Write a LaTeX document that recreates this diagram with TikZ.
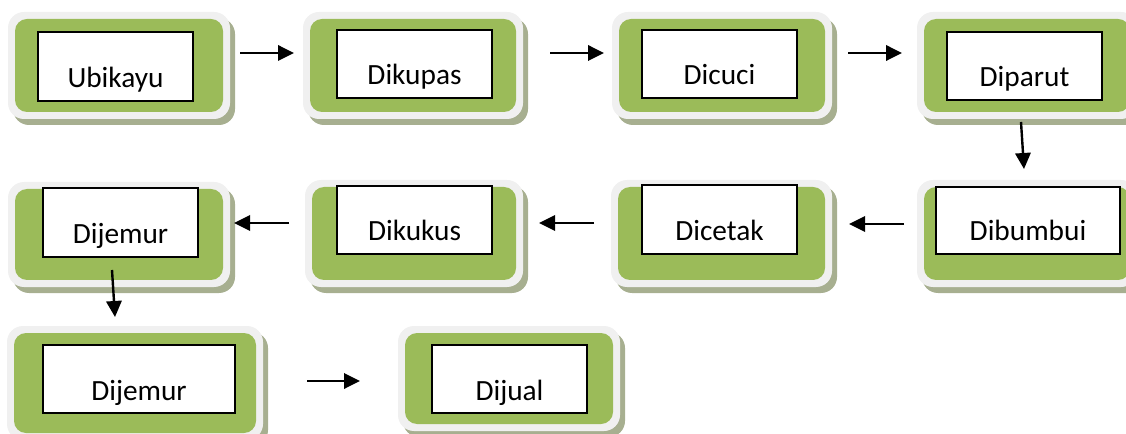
\documentclass[tikz,border=0pt]{standalone}
\usepackage{fontspec}
\setmainfont{Carlito}
\usetikzlibrary{arrows.meta,calc}
\definecolor{boxgreen}{HTML}{9BBB59}
\definecolor{rimgray}{HTML}{F0F0F0}
\definecolor{shadowc}{HTML}{A7AF90}
\tikzset{
  shadowbox/.style={fill=shadowc, rounded corners=12pt},
  rimbox/.style={fill=rimgray, rounded corners=12pt},
  greenbox/.style={fill=boxgreen, rounded corners=9pt},
  whitebox/.style={draw=black, fill=white, line width=1.1pt, inner sep=0pt,
    font=\fontsize{22}{26}\selectfont},
  flow/.style={line width=1.8pt, -{Triangle[length=12pt,width=11.5pt]}}
}
% #1 name, #2 outer top-left, #3 outer bottom-right, #4 white top-left, #5 white bottom-right, #6 text
\newcommand\stage[6]{%
  \fill[shadowbox] ($(#2)+(5,6)$) rectangle ($(#3)+(5,6)$);
  \fill[rimbox] (#2) rectangle (#3);
  \fill[greenbox] ($(#2)+(7,7)$) rectangle ($(#3)+(-7,-7)$);
  \path let \p1=(#4), \p2=(#5) in ($(#4)!0.5!(#5)$)
    node[whitebox, minimum width=\x2-\x1, text depth=9.75pt,
         text height=\y1-\y2-9.75pt] (#1) {#6};
}
\begin{document}
\begin{tikzpicture}[x=0.75pt,y=-0.75pt]
\useasboundingbox (0,0) rectangle (1126,434);
\clip (0,0) rectangle (1126,434);
% row 1
\stage{s1}{8,12}{230,119}{38,32}{193,101}{Ubikayu}
\stage{s2}{303,12}{523,119}{337,30}{492,98}{Dikupas}
\stage{s3}{612,12}{832,119}{642,30}{797,98}{Dicuci}
\stage{s4}{917,12}{1137,119}{947,32}{1102,100}{Diparut}
% row 2
\stage{s5}{917,180}{1137,287}{936,187}{1120,254}{Dibumbui}
\stage{s6}{611,180}{832,287}{642,185}{797,254}{Dicetak}
\stage{s7}{305,180}{523,287}{337,186}{492,254}{Dikukus}
\stage{s8}{8,182}{230,287}{43,188}{198,257}{Dijemur}
% row 3
\stage{s9}{7,326}{263,440}{43,345}{235,413}{Dijemur}
\stage{s10}{398,326}{620,431}{432,345}{587,413}{Dijual}
% arrow end points
\coordinate (a1s) at (240,53);  \coordinate (a1e) at (294,53);
\coordinate (a2s) at (550,53);  \coordinate (a2e) at (604,53);
\coordinate (a3s) at (848,53);  \coordinate (a3e) at (902,53);
\coordinate (a4s) at (1021,122); \coordinate (a4e) at (1024,169);
\coordinate (a5s) at (904,224); \coordinate (a5e) at (849,224);
\coordinate (a6s) at (594,223); \coordinate (a6e) at (539,223);
\coordinate (a7s) at (289,223); \coordinate (a7e) at (234,223);
\coordinate (a8s) at (112,270); \coordinate (a8e) at (115,317);
\coordinate (a9s) at (307,381); \coordinate (a9e) at (360,381);
\foreach \i in {1,...,9} \draw[flow] (a\i s) -- (a\i e);
\end{tikzpicture}
\end{document}
